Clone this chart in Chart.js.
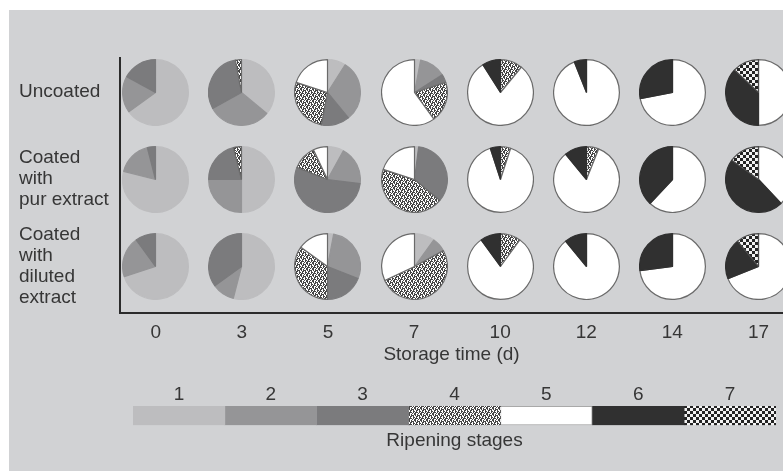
<!DOCTYPE html>
<html><head><meta charset="utf-8">
<script src="https://cdn.jsdelivr.net/npm/chart.js@4.4.1/dist/chart.umd.min.js"></script>
<style>
html,body{margin:0;padding:0;background:#fff;overflow:hidden;width:783px;height:471px;position:relative;}
#bg{position:absolute;left:9px;top:10px;width:774px;height:461px;background:#d1d2d4;}
canvas{position:absolute;}
</style></head><body>
<div id="bg"></div>
<canvas id="main" width="783" height="471" style="left:0;top:0"></canvas>
<canvas id="legend" width="783" height="471" style="left:0;top:0"></canvas>
<script>
// ---- data ----
const days = ['0','3','5','7','10','12','14','17'];
const treatments = [['Uncoated'], ['Coated','with','pur extract'], ['Coated','with','diluted','extract']];
const stages = ['1','2','3','4','5','6','7'];
// share (%) of fruits at ripening stages 1..7, per storage day
const uncoated = [
  [65,18,17,0,0,0,0],
  [36,31,30,3,0,0,0],
  [9,30,14,27,20,0,0],
  [3,13,4,20,60,0,0],
  [0,0,0,11,80,9,0],
  [0,0,0,0,94,6,0],
  [0,0,0,0,72,28,0],
  [0,0,0,0,50,37,13]
];
const purExtract = [
  [79,17,4,0,0,0,0],
  [50,25,21,4,0,0,0],
  [8,19,54,12,7,0,0],
  [2,0,34,44,20,0,0],
  [0,0,0,5,90,5,0],
  [0,0,0,6,83,11,0],
  [0,0,0,0,62,38,0],
  [0,0,0,0,38,47,15]
];
const dilutedExtract = [
  [70,20,10,0,0,0,0],
  [54,11,35,0,0,0,0],
  [3,28,19,35,15,0,0],
  [10,7,0,51,32,0,0],
  [0,0,0,10,80,10,0],
  [0,0,0,0,89,11,0],
  [0,0,0,0,73,27,0],
  [0,0,0,0,69,20,11]
];

// ---- styles ----
function makePattern(rows, fg, bg) {
  const c = document.createElement('canvas');
  c.width = rows[0].length; c.height = rows.length;
  const x = c.getContext('2d');
  x.fillStyle = bg; x.fillRect(0, 0, c.width, c.height);
  x.fillStyle = fg;
  rows.forEach((r, j) => { for (let i = 0; i < r.length; i++) if (r[i] === '#') x.fillRect(i, j, 1, 1); });
  return x.createPattern(c, 'repeat');
}
const pat4 = makePattern([
  '##.#..',
  '.#.###',
  '..##.#',
  '#.#..#',
  '.###.#',
  '##..#.'
], '#454545', '#ffffff');
const pat7 = makePattern([
  '###...',
  '###...',
  '###...',
  '...###',
  '...###',
  '...###'
], '#f2f2f2', '#242424');
const stageColors = ['#bdbdbf', '#959597', '#7b7b7d', pat4, '#ffffff', '#303030', pat7];
const stageBorders = ['#bdbdbf', '#959597', '#7b7b7d', '#6a6a6a', '#6a6a6a', '#303030', '#4a4a4a'];
const txtColor = '#363636';
const FAMILY = "'Liberation Sans', Arial, Helvetica, sans-serif";
const font = {family: FAMILY, size: 19, lineHeight: 1.2, weight: 'normal'};

// ---- main frame (axes + labels) ----
const main = new Chart(document.getElementById('main'), {
  type: 'scatter',
  data: {datasets: []},
  options: {
    responsive: false, animation: false, events: [],
    layout: {padding: {left: 19, top: 58, right: 0, bottom: 101}},
    plugins: {legend: {display: false}, tooltip: {enabled: false}},
    scales: {
      x: {
        type: 'linear', min: -0.415, max: 7.285,
        afterBuildTicks: s => { s.ticks = days.map((d, i) => ({value: i})); },
        ticks: {callback: v => days[Math.round(v)], font: font, color: txtColor, padding: 8, autoSkip: false, maxRotation: 0},
        grid: {display: false, drawTicks: false},
        border: {display: true, color: '#2b2b2b', width: 2},
        title: {display: true, text: 'Storage time (d)', font: font, color: txtColor, padding: {top: 0, bottom: 4}},
        afterFit: s => { s.height = 57; }
      },
      y: {
        type: 'linear', reverse: true, min: -0.391, max: 2.54,
        afterBuildTicks: s => { s.ticks = treatments.map((t, i) => ({value: i})); },
        ticks: {callback: v => treatments[Math.round(v)], crossAlign: 'far', font: {family: FAMILY, size: 19, lineHeight: 1.1}, color: txtColor, autoSkip: false},
        grid: {display: false, drawTicks: false},
        border: {display: true, color: '#2b2b2b', width: 2},
        afterFit: s => { s.width = 101; }
      }
    }
  }
});

// ---- ripening stage legend bar ----
new Chart(document.getElementById('legend'), {
  type: 'bar',
  data: {
    labels: ['stages'],
    datasets: stages.map((s, i) => ({
      label: s, data: [1], backgroundColor: stageColors[i],
      borderWidth: i === 4 ? 1 : 0, borderColor: '#8d8d8d', borderSkipped: false,
      barPercentage: 1, categoryPercentage: 1
    }))
  },
  options: {
    indexAxis: 'y', responsive: false, animation: false, events: [],
    layout: {padding: {left: 133, right: 7, top: 376, bottom: 19}},
    plugins: {
      legend: {display: false}, tooltip: {enabled: false},
      title: {display: true, position: 'bottom', text: 'Ripening stages', font: font, color: txtColor, padding: {top: 4, bottom: 0}}
    },
    scales: {
      x: {
        stacked: true, position: 'top', min: 0, max: 7,
        afterBuildTicks: s => { s.ticks = stages.map((st, i) => ({value: i + 0.5})); },
        ticks: {callback: v => stages[Math.floor(v)], font: font, color: txtColor, padding: 0, autoSkip: false, maxRotation: 0},
        grid: {display: false, drawTicks: false},
        border: {display: false},
        afterFit: s => { s.height = 30; }
      },
      y: {stacked: true, display: false}
    }
  }
});

// ---- pies, placed on the main chart's scales ----
const rowsData = [uncoated, purExtract, dilutedExtract];
const xs = main.scales.x, ys = main.scales.y;
const PIE = 67;
rowsData.forEach((row, r) => row.forEach((vals, c) => {
  const cv = document.createElement('canvas');
  cv.width = PIE; cv.height = PIE;
  cv.style.left = Math.round(xs.getPixelForValue(c) - PIE / 2) + 'px';
  cv.style.top = Math.round(ys.getPixelForValue(r) - PIE / 2) + 'px';
  document.body.appendChild(cv);
  new Chart(cv, {
    type: 'pie',
    data: {labels: stages, datasets: [{
      data: vals, backgroundColor: stageColors, borderColor: stageBorders,
      borderWidth: ctx => (ctx.raw > 0 ? 1.2 : 0), hoverOffset: 0, offset: 0
    }]},
    options: {responsive: false, animation: false, events: [], layout: {padding: 0},
      plugins: {legend: {display: false}, tooltip: {enabled: false}}}
  });
}));
</script>
</body></html>
